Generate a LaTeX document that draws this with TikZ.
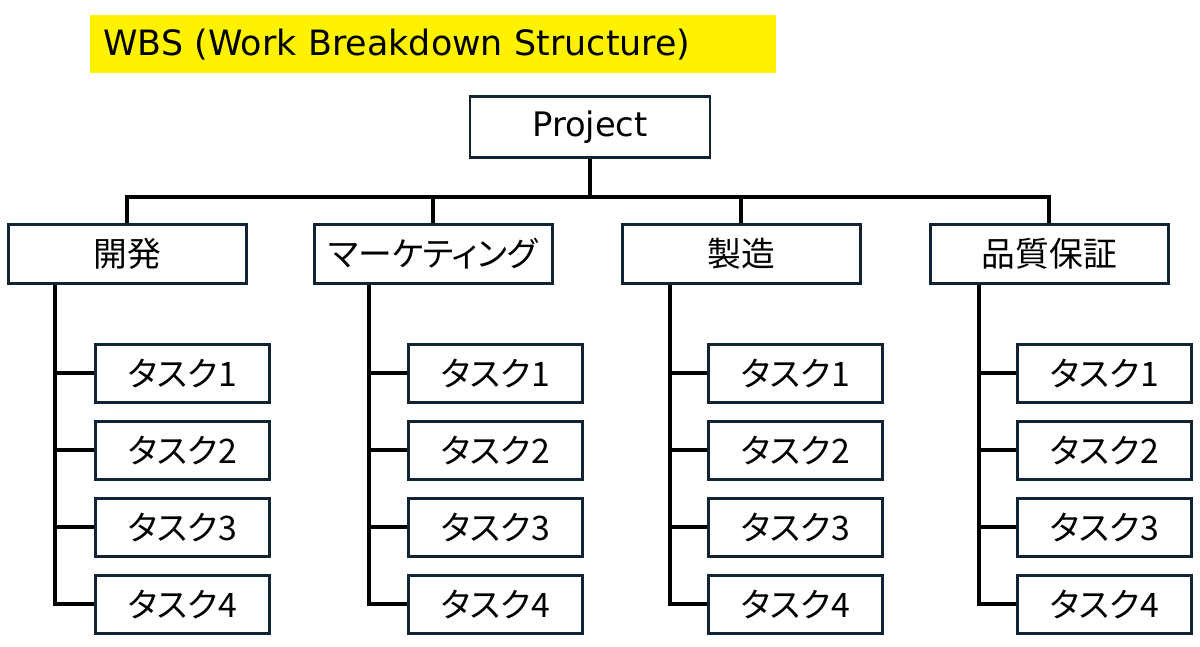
\documentclass[tikz,border=0pt]{standalone}
\usepackage{fontspec}
\setmainfont{DejaVu Sans}
\newfontfamily\jp[RawFeature=+palt]{Noto Sans CJK JP}
\usetikzlibrary{calc}
\definecolor{boxline}{RGB}{18,36,52}
\tikzset{
  box/.style={draw=boxline,line width=1.8pt,fill=white,inner sep=0pt,font=\jp\fontsize{24}{28}\selectfont},
  grp/.style={box,anchor=north west,minimum width=5.95cm,minimum height=1.475cm},
  task/.style={box,anchor=north west,minimum width=4.35cm,minimum height=1.45cm},
  link/.style={line width=3pt}
}
\begin{document}
\begin{tikzpicture}[x=0.025cm,y=-0.025cm]
\useasboundingbox(0,0)rectangle(1200,646);
\node[fill=yellow,anchor=north west,minimum width=17.15cm,minimum height=1.45cm,text width=16.5cm,align=left,inner xsep=0.325cm,font=\fontsize{24.8}{28}\selectfont](title)at(90,15){WBS (Work Breakdown Structure)};
\node[box,font=\fontsize{24}{28}\selectfont,minimum width=6cm,minimum height=1.525cm](proj)at(590,127){Project};
\coordinate(bus)at(0,197);
% level 2 and tasks
\foreach \n/\x/\t/\s/\lbl in {a/7/94/55/開発,b/313/407/369/マーケティング,c/621/707/670/製造,d/929/1016/979/品質保証}{
  \node[grp](\n)at(\x,223){\lbl};
  \foreach \i in {1,...,4}
    \node[task](\n\i)at(\t,343+77*\i-77){タスク\i};
  \coordinate(\n-s)at(\s,0);
  \draw[link](\n-s|-\n.south)|-(\n4.west);
  \foreach \i in {1,2,3}
    \draw[link](\n-s|-\n\i.west)--(\n\i.west);
}
\draw[link](proj.south)--(proj.south|-bus);
\draw[link](a.north)--(a.north|-bus)--(d.north|-bus)--(d.north);
\draw[link](b.north)--(b.north|-bus);
\draw[link](c.north)--(c.north|-bus);
\end{tikzpicture}
\end{document}
